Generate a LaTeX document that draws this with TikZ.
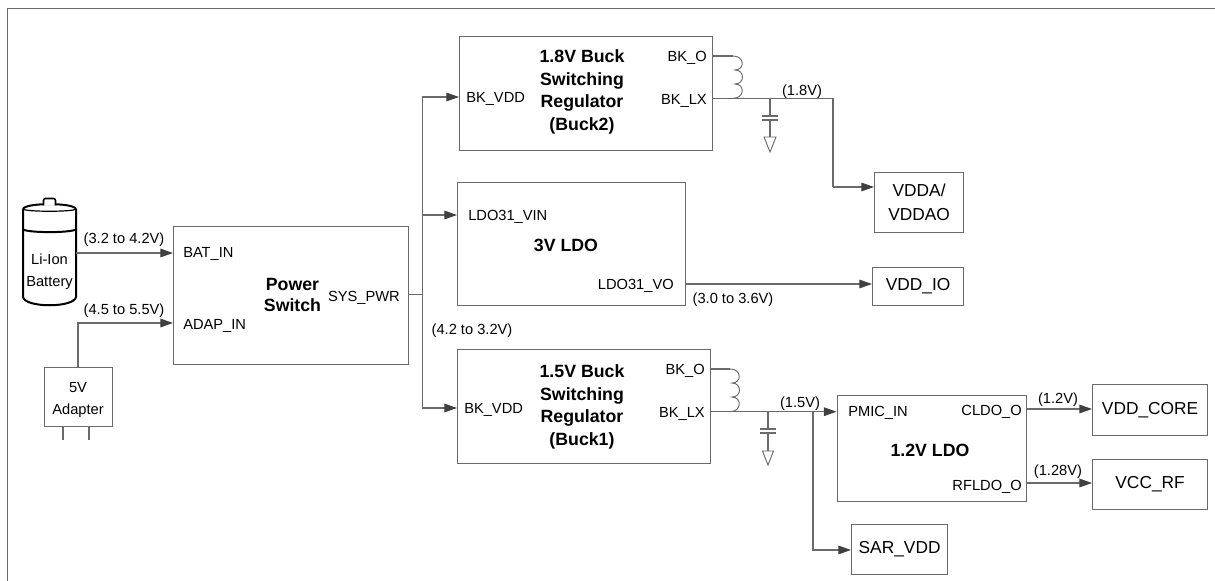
\documentclass[tikz,border=0pt]{standalone}
\usepackage{fontspec}
\setmainfont{Liberation Sans}
\usetikzlibrary{arrows.meta}
\definecolor{ln}{HTML}{6A6A6A}
\definecolor{ah}{HTML}{404040}
\tikzset{
  x=0.75pt,y=-0.75pt,
  blockbox/.style={draw=ln,line width=0.9pt,rectangle,inner sep=0pt,anchor=north west,align=center,font=\fontsize{13}{20}\selectfont},
  wire/.style={draw=ln,line width=0.8pt},
  arrowwire/.style={wire,-{Triangle[length=9.5pt,width=6.5pt,color=ah]}},
  pin/.style={font=\fontsize{11}{13}\selectfont,inner sep=0pt,text=black},
  volt/.style={font=\fontsize{11}{13}\selectfont,inner sep=0pt,text=black,yshift=-1.1pt},
  title/.style={font=\fontsize{13.3}{17}\selectfont\bfseries,inner sep=0pt,align=center,text=black},
  coil/.style={draw=ln,line width=0.7pt},
  battline/.style={draw=black,line width=1.5pt},
}
\newcommand{\boxat}[6]{\node[blockbox,minimum width=#4*0.75pt,minimum height=#5*0.75pt] (#1) at (#2,#3) {#6};}
\begin{document}
\begin{tikzpicture}
\useasboundingbox (0,0) rectangle (1215,581);
% frame
\coordinate (fa) at (7,581); \coordinate (fb) at (7,9); \coordinate (fc) at (1215,9);
\draw[draw=ln,line width=0.75pt] (fa) -- (fb) -- (fc);

% blocks
\boxat{ps}{173}{226}{235}{138}{}
\boxat{bk2}{459}{36}{253}{114}{}
\boxat{ldo3}{457}{182}{228}{123}{}
\boxat{bk1}{457}{349}{253}{114}{}
\boxat{ldo12}{836.5}{394.5}{189.5}{106.5}{}
\node[blockbox,minimum width=89*0.75pt,minimum height=60*0.75pt,font=\fontsize{13}{18}\selectfont] (vdda) at (874,172) {VDDA/\\VDDAO};
\boxat{vddio}{872}{267}{91}{38}{VDD\_IO}
\boxat{core}{1092}{384}{115}{51}{VDD\_CORE}
\boxat{rf}{1092}{459}{115}{50}{VCC\_RF}
\boxat{sar}{851}{524}{96}{50}{SAR\_VDD}
\node[blockbox,minimum width=68*0.75pt,minimum height=59*0.75pt] (adapter) at (44,367) {};
\node[inner sep=0pt,align=center,font=\fontsize{11}{16.5}\selectfont] (adaptertext) at (78,400) {5V\\Adapter};
% adapter prongs
\coordinate (pr1) at (63,440); \coordinate (pr2) at (89,440);
\draw[wire] (adapter.south west -| pr1) -- (pr1);
\draw[wire] (adapter.south west -| pr2) -- (pr2);

% battery
\draw[battline,fill=white] (23,209) -- (23,297) .. controls (25,308) and (74,308) .. (76,297) -- (76,209);
\draw[battline] (23,209) .. controls (25,202.5) and (74,202.5) .. (76,209);
\draw[draw=black,line width=0.9pt] (23,209) .. controls (25,212) and (74,212) .. (76,209);
\draw[battline] (23,229.5) .. controls (30,233) and (69,233) .. (76,229.5);
\draw[draw=black,line width=1.2pt,fill=white,rounded corners=1.5pt] (43.5,205.5) -- (43.5,198.5) -- (55.5,198.5) -- (55.5,205.5);
\node[inner sep=0pt,align=center,font=\fontsize{11}{16.5}\selectfont] (bat) at (49.5,272) {Li-Ion\\Battery};
\coordinate (batr) at (76,253);

% titles
\node[title,font=\fontsize{13.3}{16.2}\selectfont\bfseries] (t0) at (292.5,295) {Power\\Switch};
\node[title] (t1) at (582,92) {1.8V Buck\\Switching\\Regulator\\(Buck2)};
\node[title] (t2) at (566,245) {3V LDO};
\node[title] (t3) at (582,407) {1.5V Buck\\Switching\\Regulator\\(Buck1)};
\node[title] (t4) at (930,450) {1.2V LDO};

% pins
\node[pin,anchor=west] (p1) at (183,254) {BAT\_IN};
\node[pin,anchor=west] (p2) at (183,326) {ADAP\_IN};
\node[pin,anchor=east] (p3) at (400,298) {SYS\_PWR};
\node[pin,anchor=west] (p4) at (466,99) {BK\_VDD};
\node[pin,anchor=east] (p5) at (707,58) {BK\_O};
\node[pin,anchor=east] (p6) at (707,101) {BK\_LX};
\node[pin,anchor=west] (p7) at (468,217) {LDO31\_VIN};
\node[pin,anchor=east] (p8) at (674,286) {LDO31\_VO};
\node[pin,anchor=west] (p9) at (464,410) {BK\_VDD};
\node[pin,anchor=east] (p10) at (705,371) {BK\_O};
\node[pin,anchor=east] (p11) at (705,414) {BK\_LX};
\node[pin,anchor=west] (p12) at (848,413) {PMIC\_IN};
\node[pin,anchor=east] (p13) at (1022,412) {CLDO\_O};
\node[pin,anchor=east] (p14) at (1022,487) {RFLDO\_O};

% voltages
\node[volt] (v1) at (124,238) {(3.2 to 4.2V)};
\node[volt] (v2) at (124,309) {(4.5 to 5.5V)};
\node[volt] (v3) at (472,329) {(4.2 to 3.2V)};
\node[volt] (v4) at (802,90) {(1.8V)};
\node[volt] (v5) at (733,298) {(3.0 to 3.6V)};
\node[volt] (v6) at (800,402) {(1.5V)};
\node[volt] (v7) at (1058,398) {(1.2V)};
\node[volt] (v8) at (1058,470) {(1.28V)};

% connectors: inputs
\draw[arrowwire] (batr) -- (batr -| ps.west);
\coordinate (adapin) at (78,323);
\draw[arrowwire] (adapter.north -| adapin) -- (adapin) -- (adapin -| ps.west);

% bus
\coordinate (bus) at (422.5,294.5);
\coordinate (busT) at (422.5,97);
\coordinate (busM) at (422.5,215);
\coordinate (busB) at (422.5,408);
\draw[wire] (ps.east |- bus) -- (bus);
\draw[arrowwire] (bus) -- (busT) -- (busT -| bk2.west);
\draw[arrowwire] (busM) -- (busM -| ldo3.west);
\draw[arrowwire] (bus) -- (busB) -- (busB -| bk1.west);

% Buck2 output
\coordinate (b2o) at (712,56);
\coordinate (b2x) at (712,98.3);
\coordinate (capa) at (770,98.3);
\coordinate (r18) at (833,98.3);
\coordinate (d18) at (833,187);
\draw[wire] (b2o) -- (733,56);
\draw[coil] (733,56) .. controls (745,56) and (745,70) .. (735,70)
  .. controls (745,70) and (745,84) .. (735,84)
  .. controls (745,84) and (745,98.3) .. (733,98.3);
\draw[wire] (b2x) -- (r18) -- (d18);
\draw[arrowwire] (d18) -- (d18 -| vdda.west);
\draw[wire] (capa) -- (770,116);
\draw[wire] (762,116) -- (778,116);
\draw[wire] (762,120) -- (778,120);
\draw[wire] (770,120) -- (770,137);
\draw[coil] (764,137) -- (776,137) -- (770,152) -- cycle;

% LDO3 output
\coordinate (l3o) at (685,284);
\draw[arrowwire] (l3o) -- (l3o -| vddio.west);

% Buck1 output
\coordinate (b1o) at (710,369);
\coordinate (b1x) at (710,411.7);
\coordinate (jn) at (813,411.7);
\coordinate (d15) at (813,550);
\draw[wire] (b1o) -- (730,369);
\draw[coil] (730,369) .. controls (742,369) and (742,383) .. (732,383)
  .. controls (742,383) and (742,397) .. (732,397)
  .. controls (742,397) and (742,411.7) .. (730,411.7);
\draw[arrowwire] (b1x) -- (b1x -| ldo12.west);
\draw[arrowwire] (jn) -- (d15) -- (d15 -| sar.west);
\draw[wire] (768,411.7) -- (768,429);
\draw[wire] (760,429) -- (776,429);
\draw[wire] (760,433) -- (776,433);
\draw[wire] (768,433) -- (768,451);
\draw[coil] (762.5,451) -- (773.5,451) -- (768,465) -- cycle;

% 1.2V LDO outputs
\coordinate (co) at (1026,409);
\coordinate (ro) at (1026,483);
\draw[arrowwire] (co) -- (co -| core.west);
\draw[arrowwire] (ro) -- (ro -| rf.west);
\end{tikzpicture}
\end{document}
